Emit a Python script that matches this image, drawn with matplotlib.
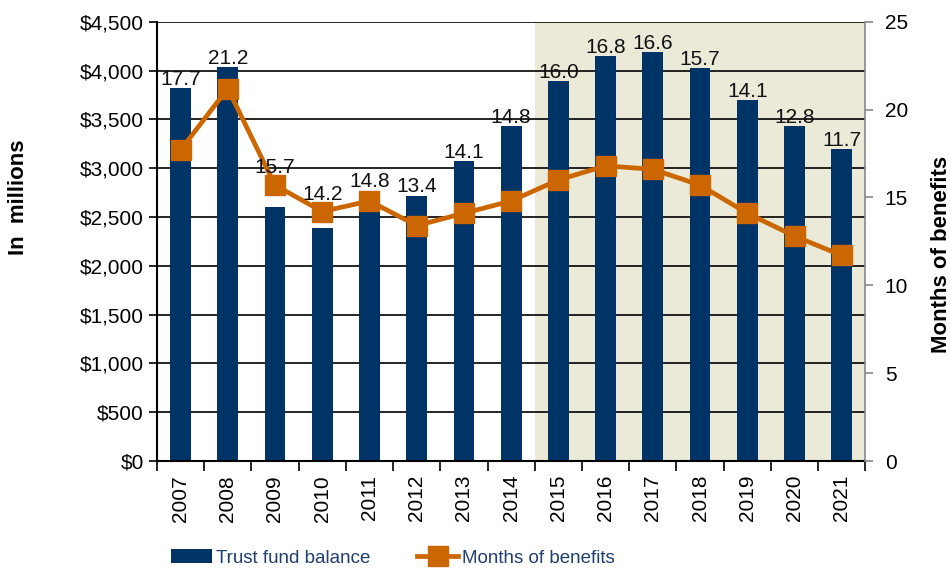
import matplotlib
matplotlib.use('Agg')
import matplotlib.pyplot as plt
import numpy as np
from matplotlib.lines import Line2D
from matplotlib.patches import Patch

plt.rcParams['font.family'] = ['Liberation Sans Narrow', 'Liberation Sans', 'DejaVu Sans']

years = ['2007', '2008', '2009', '2010', '2011', '2012', '2013', '2014',
         '2015', '2016', '2017', '2018', '2019', '2020', '2021']
balance = [3820, 4040, 2600, 2390, 2770, 2720, 3070, 3430,
           3890, 4150, 4185, 4025, 3695, 3430, 3200]
months = [17.7, 21.2, 15.7, 14.2, 14.8, 13.4, 14.1, 14.8,
          16.0, 16.8, 16.6, 15.7, 14.1, 12.8, 11.7]
proj_start = 8  # first projected year (2015)

navy = '#003366'
orange = '#CC6600'
shade = '#EBE9D8'

fig = plt.figure(figsize=(9.51, 5.72), dpi=100)
ax = fig.add_axes([0.165, 0.194, 0.745, 0.768])
ax2 = ax.twinx()

x = np.arange(len(years))
ax.axvspan(proj_start - 0.5, len(years) - 0.5, color=shade, zorder=0, lw=0)
for v in range(500, 4501, 500):
    ax.axhline(v, color='black', lw=1.2, zorder=1)
ax.bar(x, balance, width=0.44, color=navy, zorder=2)

ax.set_xlim(-0.5, len(years) - 0.5)
ax.set_ylim(0, 4500)
ax.set_yticks(range(0, 4501, 500))
ax.set_yticklabels(['${:,}'.format(v) for v in range(0, 4501, 500)], fontsize=15)
ax.set_xticks(x)
ax.set_xticklabels(years, rotation=90, fontsize=15)
ax.set_xticks(np.arange(-0.5, len(years), 1), minor=True)
ax.tick_params(axis='x', which='major', length=0, pad=10)
ax.tick_params(axis='x', which='minor', length=7, width=1.2, direction='out')
ax.tick_params(axis='y', length=6, width=1.2, direction='out')
ax.set_ylabel('In  millions', fontsize=16, fontweight='bold')
ax.yaxis.set_label_coords(-0.181, 0.6)
for s in ['top', 'right']:
    ax.spines[s].set_visible(False)
ax.spines['left'].set_linewidth(1.5)
ax.spines['bottom'].set_linewidth(1.5)

ax2.plot(x, months, color=orange, lw=3.4, marker='s', markersize=15, zorder=3)
ax2.set_ylim(0, 25)
ax2.set_yticks(range(0, 26, 5))
ax2.tick_params(axis='y', labelsize=15, length=6, width=1.2, color='#888888', pad=8)
ax2.set_ylabel('Months of benefits', fontsize=16, fontweight='bold')
ax2.yaxis.set_label_coords(1.092, 0.47)
for s in ['top', 'left', 'bottom']:
    ax2.spines[s].set_visible(False)
ax2.spines['right'].set_color('#888888')
ax2.spines['right'].set_linewidth(1.2)

# value labels above the higher of bar top / marker
for i in range(len(years)):
    top = max(balance[i] / 180.0, months[i] + 0.5)
    ax2.text(x[i], top - 0.05, '{:.1f}'.format(months[i]), ha='center', va='bottom',
             fontsize=15, color='#111111', zorder=5)

handles = [Patch(facecolor=navy, edgecolor='none'),
           Line2D([0], [0], color=orange, lw=3.4, marker='s', markersize=15)]
leg = fig.legend(handles, ['Trust fund balance', 'Months of benefits'],
                 loc='lower center', bbox_to_anchor=(0.413, -0.02), ncol=2, frameon=False,
                 fontsize=13.5, handlelength=2.2, handletextpad=0.2, columnspacing=2.5)
for t in leg.get_texts():
    t.set_color('#1F3F6E')

fig.savefig('out.png', dpi=100)
